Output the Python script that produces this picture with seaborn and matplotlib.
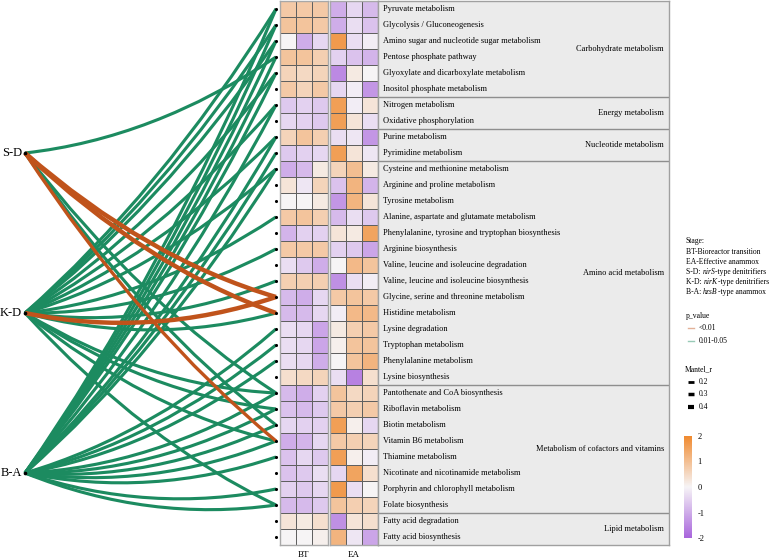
import numpy as np
import pandas as pd
import matplotlib
matplotlib.use("Agg")
import matplotlib.pyplot as plt
import seaborn as sns
from matplotlib.colors import LinearSegmentedColormap
from matplotlib.path import Path
from matplotlib.patches import PathPatch

# ---------------- data ----------------
pathways = [
    "Pyruvate metabolism", "Glycolysis / Gluconeogenesis",
    "Amino sugar and nucleotide sugar metabolism", "Pentose phosphate pathway",
    "Glyoxylate and dicarboxylate metabolism", "Inositol phosphate metabolism",
    "Nitrogen metabolism", "Oxidative phosphorylation",
    "Purine metabolism", "Pyrimidine metabolism",
    "Cysteine and methionine metabolism", "Arginine and proline metabolism",
    "Tyrosine metabolism", "Alanine, aspartate and glutamate metabolism",
    "Phenylalanine, tyrosine and tryptophan biosynthesis", "Arginine biosynthesis",
    "Valine, leucine and isoleucine degradation", "Valine, leucine and isoleucine biosynthesis",
    "Glycine, serine and threonine metabolism", "Histidine metabolism",
    "Lysine degradation", "Tryptophan metabolism", "Phenylalanine metabolism",
    "Lysine biosynthesis",
    "Pantothenate and CoA biosynthesis", "Riboflavin metabolism", "Biotin metabolism",
    "Vitamin B6 metabolism", "Thiamine metabolism",
    "Nicotinate and nicotinamide metabolism", "Porphyrin and chlorophyll metabolism",
    "Folate biosynthesis",
    "Fatty acid degradation", "Fatty acid biosynthesis",
]
group_names = ["Carbohydrate metabolism", "Energy metabolism", "Nucleotide metabolism",
               "Amino acid metabolism", "Metabolism of cofactors and vitamins", "Lipid metabolism"]
group_sizes = [6, 2, 2, 14, 8, 2]

bt_values = [
    [0.8, 0.8, 0.8], [0.9, 0.9, 0.8], [0.0, -1.0, -0.4], [0.9, 0.9, 0.7],
    [0.6, 0.5, 0.6], [0.8, 0.6, 0.8], [-0.6, -0.5, -0.6], [-0.4, -0.5, -0.6],
    [0.6, 0.9, 0.7], [-0.6, -0.5, -0.4], [-1.0, -0.8, 0.2], [0.3, -0.2, 0.6],
    [0.0, 0.0, 0.2], [0.8, 0.9, 0.7], [-0.9, -0.5, -0.5], [0.8, 0.8, 0.8],
    [-0.3, -0.6, -1.0], [0.7, 0.7, 0.7], [-0.8, -1.0, -0.4], [-0.8, -0.8, -0.4],
    [-0.3, -0.4, -1.1], [-0.3, -0.4, -1.1], [-0.3, -0.4, -1.0], [0.4, 0.5, 0.6],
    [-0.8, -1.0, -0.5], [-0.7, -0.8, -0.6], [-0.4, -0.5, -0.5], [-1.0, -0.9, -0.4],
    [-0.7, -0.4, -0.6], [-0.7, -0.6, -0.3], [-0.5, -0.6, -0.4], [-0.8, -0.8, -0.6],
    [0.3, 0.2, 0.4], [0.0, 0.0, 0.1],
]
ea_values = [
    [-1.0, -0.4, -0.8], [-1.0, -0.3, -0.7], [1.7, -0.3, -0.1], [-0.5, -0.7, -0.9],
    [-1.5, 0.2, 0.0], [-0.4, -0.1, -1.3], [1.6, -0.1, 0.3], [1.6, 0.3, -0.3],
    [-0.3, -0.2, -1.3], [1.6, 0.3, -0.2], [0.6, 1.0, 0.2], [-0.7, 1.2, -0.9],
    [-1.3, 1.2, 0.3], [-0.8, -0.3, -0.6], [0.3, 0.2, 1.5], [-0.5, -0.6, -1.1],
    [0.0, 1.1, 0.9], [-1.4, -0.3, -0.1], [0.8, 0.9, 0.8], [-0.1, 1.1, 1.1],
    [0.2, 0.7, 0.8], [0.1, 0.9, 0.9], [0.0, 0.9, 1.2], [-0.3, -1.6, 0.4],
    [0.9, 0.5, 0.6], [0.8, 0.7, 0.8], [1.6, 0.1, -0.4], [0.8, 0.7, 0.6],
    [1.6, 0.1, -0.1], [-0.4, 1.5, 0.4], [1.7, -0.3, 0.0], [0.9, 0.7, 0.6],
    [-1.4, 0.3, 0.4], [1.2, -0.2, -1.1],
]
stage_labels = ["BT", "EA"]
sources = ["S-D", "K-D", "B-A"]

# edges: source index, target pathway (1-based row), p class, mantel r
edge_source = [0, 0, 0, 0, 0, 0,
               1, 1, 1, 1, 1, 1, 1, 1, 1, 1, 1, 1, 1, 1, 1, 1,
               2, 2, 2, 2, 2, 2, 2, 2, 2, 2, 2, 2, 2, 2, 2, 2, 2, 2, 2]
edge_target = [4, 19, 20, 28, 25, 27,
               1, 2, 3, 5, 7, 9, 11, 14, 16, 18, 19, 20, 25, 26, 28, 32,
               1, 2, 3, 4, 5, 7, 9, 10, 11, 21, 22, 23, 25, 26, 27, 28, 29, 31, 32]
edge_p = ["g", "o", "o", "o", "g", "g",
          "g", "g", "g", "g", "g", "g", "g", "g", "g", "g", "o", "g", "g", "g", "g", "g",
          "g", "g", "g", "g", "g", "g", "g", "g", "g", "g", "g", "g", "g", "g", "g", "g", "g", "g", "g"]
edge_r = [0.28, 0.4, 0.4, 0.3, 0.28, 0.28,
          0.28, 0.28, 0.28, 0.28, 0.28, 0.28, 0.28, 0.28, 0.28, 0.28, 0.4, 0.28, 0.28, 0.28, 0.28, 0.28,
          0.28, 0.28, 0.28, 0.28, 0.28, 0.28, 0.28, 0.28, 0.28, 0.28, 0.28, 0.28, 0.28, 0.28, 0.28, 0.28, 0.28, 0.28, 0.28]

# ---------------- style ----------------
W, H = 777, 560
plt.rcParams["font.family"] = ["Liberation Serif", "DejaVu Serif"]
plt.rcParams["axes.unicode_minus"] = False

GREEN = "#1c8b60"
ORANGE = "#c0531b"
cmap = LinearSegmentedColormap.from_list("po", ["#a865dc", "#f6f4f6", "#f08a2f"])

n_rows = len(pathways)
row_top, row_h = 1, 16.0
heat_top, heat_bot = row_top, row_top + n_rows * row_h


def row_y(i):
    return row_top + row_h * (i + 0.5)


def frac(x0, y0, x1, y1):
    return [x0 / W, 1 - y1 / H, (x1 - x0) / W, (y1 - y0) / H]


fig = plt.figure(figsize=(W / 100, H / 100), dpi=100)

# ---------------- network ----------------
ax = fig.add_axes([0, 0, 1, 1])
ax.set_xlim(0, W)
ax.set_ylim(H, 0)
ax.axis("off")
ax.patch.set_visible(False)

src_rows = [9, 19, 29]
x_src, x_dst = 25, 276
panel_h = 545.0
lw_scale = 8.0
curv = 0.062

order = sorted(range(len(edge_source)), key=lambda k: (edge_p[k] == "o"))
for k in order:
    s = edge_source[k]
    # work in panel-normalised units, then back to pixels
    p0 = np.array([0.0, row_y(src_rows[s]) / panel_h])
    p2 = np.array([1.0, row_y(edge_target[k] - 1) / panel_h])
    d = p2 - p0
    c = (p0 + p2) / 2 + curv * np.array([-d[1], d[0]])
    pts = np.array([p0, c, p2])
    pts[:, 0] = x_src + pts[:, 0] * (x_dst - x_src)
    pts[:, 1] = pts[:, 1] * panel_h
    path = Path(pts, [Path.MOVETO, Path.CURVE3, Path.CURVE3])
    col = ORANGE if edge_p[k] == "o" else GREEN
    ax.add_patch(PathPatch(path, fc="none", ec=col, lw=edge_r[k] * lw_scale,
                           capstyle="butt", zorder=2))

ax.scatter([x_dst] * n_rows, [row_y(i) for i in range(n_rows)], s=5, c="black", zorder=3, linewidths=0)
ax.scatter([x_src] * 3, [row_y(r) for r in src_rows], s=7, c="black", zorder=3, linewidths=0)
for s, name in enumerate(sources):
    ax.text(x_src - 3, row_y(src_rows[s]), name, ha="right", va="center", fontsize=9)

# ---------------- heatmaps ----------------
ax_bt = fig.add_axes(frac(280, heat_top, 328, heat_bot))
ax_ea = fig.add_axes(frac(330, heat_top, 378, heat_bot))
for a, vals, lab in [(ax_bt, bt_values, stage_labels[0]), (ax_ea, ea_values, stage_labels[1])]:
    sns.heatmap(pd.DataFrame(vals, index=pathways), ax=a, cmap=cmap, vmin=-2, vmax=2,
                cbar=False, linewidths=0.6, linecolor="#606060",
                xticklabels=False, yticklabels=False)
    a.set_xlabel(lab, fontsize=6.5, labelpad=4)
    a.set_ylabel("")
    for sp in a.spines.values():
        sp.set_visible(True)
        sp.set_color("#a8a8a8")
        sp.set_linewidth(1.0)

# ---------------- pathway panel ----------------
ax_t = fig.add_axes(frac(378, heat_top, 669, heat_bot))
ax_t.set_xlim(0, 291)
ax_t.set_ylim(n_rows, 0)
ax_t.set_facecolor("#ebebeb")
ax_t.set_xticks([])
ax_t.set_yticks([])
for sp in ax_t.spines.values():
    sp.set_color("#a0a0a0")
    sp.set_linewidth(1.0)
for i, name in enumerate(pathways):
    ax_t.text(5, i + 0.5, name, ha="left", va="center", fontsize=6)
start = 0
for g, size in zip(group_names, group_sizes):
    ax_t.text(286, start + size / 2, g, ha="right", va="center", fontsize=6)
    start += size
    if start < n_rows:
        ax_t.axhline(start, color="#8e8e8e", lw=1.0)

# ---------------- legend ----------------
lx = 686
LF = 5.5
stage_parts = [
    [("Stage:", "normal")],
    [("BT-Bioreactor transition", "normal")],
    [("EA-Effective anammox", "normal")],
    [("S-D: ", "normal"), ("nirS", "italic"), ("-type denitrifiers", "normal")],
    [("K-D: ", "normal"), ("nirK", "italic"), ("-type denitrifiers", "normal")],
    [("B-A: ", "normal"), ("hzsB", "italic"), ("-type anammox", "normal")],
]
for parts, yy in zip(stage_parts, [241, 251.5, 261.5, 271.5, 281.5, 291.5]):
    prev = ax.text(lx, yy, parts[0][0], fontsize=LF, va="center", style=parts[0][1])
    for txt, st in parts[1:]:
        prev = ax.annotate(txt, xy=(1, 0), xycoords=prev, va="bottom", ha="left",
                           fontsize=LF, style=st)

ax.text(lx, 316, "p_value", fontsize=LF, va="center")
ax.plot([lx + 2, lx + 8], [328, 328], color=ORANGE, alpha=0.45, lw=1.0)
ax.plot([lx + 2, lx + 8], [341, 341], color=GREEN, alpha=0.45, lw=1.0)
ax.text(lx + 13, 328, "<0.01", fontsize=LF, va="center")
ax.text(lx + 13, 341, "0.01-0.05", fontsize=LF, va="center")

ax.text(lx - 1, 369, "Mantel_r", fontsize=LF, va="center")
for r, yy, lw in zip([0.2, 0.3, 0.4], [382, 394, 407], [2.0, 2.5, 3.0]):
    ax.plot([lx + 2, lx + 8], [yy, yy], color="black", lw=lw, solid_capstyle="butt")
    ax.text(lx + 13, yy, f"{r}", fontsize=LF, va="center")

# ---------------- colorbar ----------------
cax = fig.add_axes(frac(684, 436, 692, 538))
cb = fig.colorbar(ax_ea.collections[0], cax=cax, ticks=[-2, -1, 0, 1, 2])
cb.outline.set_visible(False)
cax.tick_params(labelsize=6, length=2, color="white", pad=2)

fig.savefig("out.png", dpi=100)
